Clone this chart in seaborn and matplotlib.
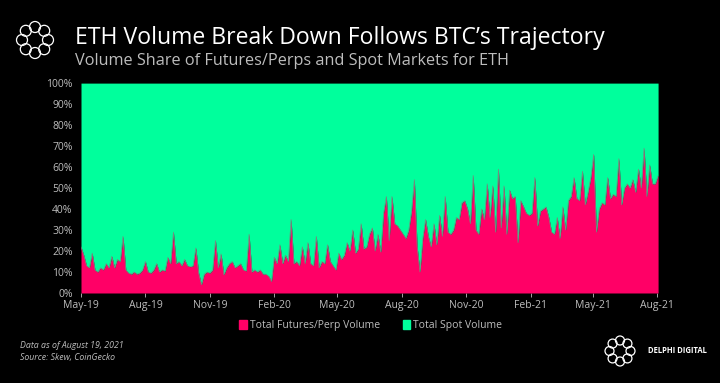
import matplotlib.pyplot as plt
import matplotlib.patches as mpatches
import matplotlib.ticker as mticker
import numpy as np
import pandas as pd
import seaborn as sns

# futures/perp share of ETH volume (%), one reading every 4 days from 2019-05-01
futures_share = [
    22, 18, 13, 12, 19, 11, 10, 12, 11, 14, 12, 17.5, 12, 16, 15, 27,
    11, 9.5, 9, 10, 9, 9.5, 11, 15, 10, 9.5, 11, 14, 10, 11, 10.5, 17,
    14, 29, 14, 15, 13, 16, 13, 12.5, 13, 21.5, 9.5, 4, 9, 10, 9.5, 11,
    25, 12, 18.6, 8.7, 12, 14, 15, 12, 13, 14, 11, 10.5, 28, 10, 11, 10,
    11, 9, 9, 8, 5.5, 17, 14, 23, 14, 18, 15, 35, 14, 15, 13, 22,
    14, 24, 14, 13, 27, 12, 15, 14, 23, 15, 13, 11, 19, 16, 18, 24,
    20, 30, 19, 21, 33, 21, 22, 28, 31, 20, 28, 19.5, 38, 46, 25, 46,
    33, 32, 30, 28, 26, 30, 39, 54, 22, 10, 26, 35, 27, 22, 33, 23,
    37, 27, 46, 29, 28, 30, 36, 35, 43, 44, 40, 33, 56, 30, 28, 40,
    35, 52, 36, 51, 29, 59, 31, 51, 28, 49, 45, 46, 24, 44, 41, 38,
    37, 38, 55, 32, 39, 40, 41, 36, 29, 28, 36, 26, 41, 30, 44, 46,
    55, 45, 44, 58, 42, 48, 55, 66, 29, 40, 43, 42, 55, 45, 47, 46,
    64, 42, 50, 52, 50, 54, 48, 59, 50, 69, 46, 61, 52, 52, 56,
]
dates = pd.date_range("2019-05-01", periods=len(futures_share), freq="4D")
spot_share = [100 - v for v in futures_share]

tick_dates = pd.date_range("2019-05-01", "2021-08-01", freq="3MS")
tick_labels = [d.strftime("%b-%y") for d in tick_dates]

pink = "#FF0066"
green = "#00FF9C"
grey_txt = "#bdbdbd"

df = pd.DataFrame({"date": dates, "futures": futures_share, "spot": spot_share})

sns.set_theme(style="dark")
plt.rcParams["font.family"] = ["Open Sans", "DejaVu Sans"]

fig = plt.figure(figsize=(7.2, 3.83), dpi=100, facecolor="black")
ax = fig.add_axes([0.1125, 0.235, 0.8015, 0.548])
ax.set_facecolor("black")

ax.fill_between(df["date"], 0, df["futures"], color=pink, linewidth=0)
ax.fill_between(df["date"], df["futures"], 100, color=green, linewidth=0)
sns.lineplot(data=df, x="date", y="futures", ax=ax, color="#7a8a80", linewidth=0.5)

ax.set_xlim(dates[0], dates[-1])
ax.set_ylim(0, 100)
ax.yaxis.set_major_locator(mticker.MultipleLocator(10))
ax.yaxis.set_major_formatter(mticker.FuncFormatter(lambda v, p: f"{v:.0f}%"))
ax.set_xticks(tick_dates)
ax.set_xticklabels(tick_labels)
ax.tick_params(axis="both", colors=grey_txt, labelsize=7.5, length=3, width=0.6,
               bottom=True, left=False, pad=2)
ax.tick_params(axis="y", pad=3)
ax.set_xlabel("")
ax.set_ylabel("")
ax.grid(False)
for s in ax.spines.values():
    s.set_visible(False)

handles = [mpatches.Patch(color=pink, label="Total Futures/Perp Volume"),
           mpatches.Patch(color=green, label="Total Spot Volume")]
fig.legend(handles=handles, loc="center", bbox_to_anchor=(0.515, 0.15), ncol=2,
           frameon=False, fontsize=7.5, labelcolor=grey_txt, handlelength=0.7,
           handleheight=0.9, handletextpad=0.3, columnspacing=2.2)

fig.text(0.104, 0.902, "ETH Volume Break Down Follows BTC\u2019s Trajectory",
         color="white", fontsize=16.6, va="center", ha="left")
fig.text(0.104, 0.842, "Volume Share of Futures/Perps and Spot Markets for ETH",
         color=grey_txt, fontsize=11.7, va="center", ha="left")
fig.text(0.028, 0.097, "Data as of August 19, 2021", color=grey_txt,
         fontsize=6.3, style="italic", va="center")
fig.text(0.028, 0.067, "Source: Skew, CoinGecko", color=grey_txt,
         fontsize=6.3, style="italic", va="center")


def ring(cx, cy, r, small):
    # logo: ring of small circles, drawn in pixel units
    for k in range(8):
        a = k * np.pi / 4
        c = mpatches.Ellipse((cx + r * np.cos(a), cy + r * np.sin(a)), 2 * small, 2 * small,
                             transform=None, fill=False, edgecolor="white", linewidth=0.9)
        fig.add_artist(c)


ring(35, 383 - 40, 13, 5.5)
ring(620, 383 - 351, 10.5, 4.5)
fig.text(0.9, 0.084, "DELPHI DIGITAL", color="white", fontsize=5.5,
         va="center", ha="left", fontweight="bold")

fig.savefig("out.png", dpi=100, facecolor="black")
